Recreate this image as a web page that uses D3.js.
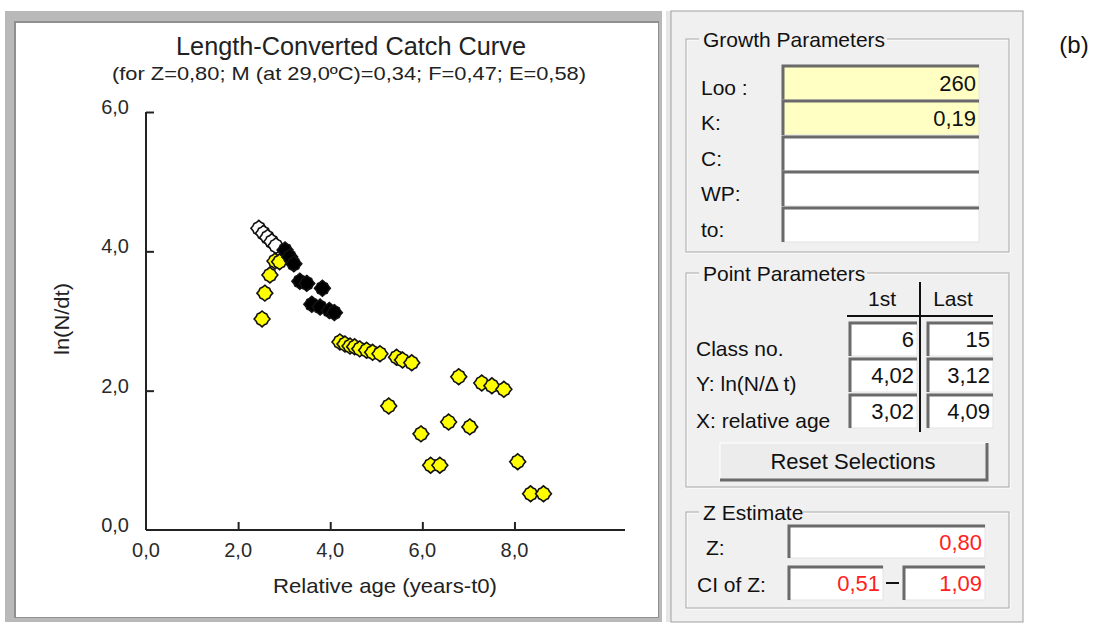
<!DOCTYPE html>
<html lang="en">
<head>
<meta charset="UTF-8">
<title>Length-Converted Catch Curve</title>
<script src="https://cdnjs.cloudflare.com/ajax/libs/d3/7.8.5/d3.min.js"></script>
<style>
  body { margin: 0; background: #fff; }
  svg text { font-family: "Liberation Sans", Arial, sans-serif; }
  svg .win text { font-family: "Liberation Sans Narrow", "Arial Narrow", "Liberation Sans", sans-serif; }
</style>
</head>
<body>
<div id="draw-here"></div>
<script>
/* global d3 */

// points not used (open), used in the regression (black) and the rest (yellow)
var openAge = [2.45, 2.55, 2.64, 2.73, 2.82];
var openLn  = [4.33, 4.26, 4.20, 4.14, 4.08];

var usedAge = [3.02, 3.12, 3.21, 3.34, 3.49, 3.60, 3.78, 3.83, 3.98, 4.09];
var usedLn  = [4.02, 3.92, 3.82, 3.57, 3.54, 3.24, 3.20, 3.47, 3.15, 3.12];

var otherAge = [2.52, 2.58, 2.69, 2.80, 2.90,
                4.21, 4.32, 4.43, 4.53, 4.64, 4.79, 4.92, 5.08, 5.44, 5.57, 5.77,
                5.27, 5.97, 6.18, 6.38, 6.57, 6.79, 7.03, 7.29, 7.51, 7.77, 8.07, 8.35, 8.63];
var otherLn  = [3.03, 3.40, 3.66, 3.86, 3.85,
                2.70, 2.67, 2.64, 2.63, 2.60, 2.58, 2.55, 2.53, 2.48, 2.44, 2.40,
                1.78, 1.38, 0.93, 0.93, 1.55, 2.20, 1.48, 2.11, 2.07, 2.02, 0.98, 0.52, 0.52];

var xTicks = [0, 2, 4, 6, 8];
var yTicks = [0, 2, 4, 6];

// right hand panel contents
var growthLabels = ["Loo :", "K:", "C:", "WP:", "to:"];
var growthValues = ["260", "0,19", "", "", ""];
var pointLabels  = ["Class no.", "Y: ln(N/\u0394 t)", "X: relative age"];
var pointFirst   = ["6", "4,02", "3,02"];
var pointLast    = ["15", "3,12", "4,09"];
var zValue = "0,80";
var ciLow = "0,51", ciHigh = "1,09";

var w = 1096, h = 624;
var comma = function(v) { return d3.format(".1f")(v).replace(".", ","); };

var svg = d3.select("#draw-here").append("svg")
    .attr("width", w).attr("height", h);

// ---- left window frame ----
svg.append("rect").attr("x", 5).attr("y", 11).attr("width", 657).attr("height", 611).attr("fill", "#b9b9b9");
svg.append("rect").attr("x", 14).attr("y", 21).attr("width", 645).attr("height", 597).attr("fill", "#8f8f8f");
svg.append("rect").attr("x", 16).attr("y", 23).attr("width", 642).attr("height", 594).attr("fill", "#fff");

// ---- chart ----
var x = d3.scaleLinear().domain([0, 10.4]).range([146, 625]);
var y = d3.scaleLinear().domain([0, 6]).range([530, 112]);

var chart = svg.append("g");

chart.append("text").attr("x", 351).attr("y", 55).attr("text-anchor", "middle")
    .attr("font-size", 26).attr("fill", "#222")
    .attr("textLength", 350).attr("lengthAdjust", "spacingAndGlyphs")
    .text("Length-Converted Catch Curve");
chart.append("text").attr("x", 349).attr("y", 80).attr("text-anchor", "middle")
    .attr("font-size", 19).attr("fill", "#222")
    .attr("textLength", 474).attr("lengthAdjust", "spacingAndGlyphs")
    .text("(for Z=0,80; M (at 29,0\u00BAC)=0,34; F=0,47; E=0,58)");

var xAxis = d3.axisTop(x).tickValues(xTicks.slice(1)).tickSize(8).tickFormat("");
var yAxis = d3.axisRight(y).tickValues(yTicks.slice(1)).tickSize(8).tickFormat("");

chart.append("g").attr("transform", "translate(0," + y(0) + ")").call(xAxis)
    .call(function(g) { g.select(".domain").remove(); })
    .selectAll("line").attr("stroke", "#222").attr("stroke-width", 2);
chart.append("g").attr("transform", "translate(" + x(0) + ",0)").call(yAxis)
    .call(function(g) { g.select(".domain").remove(); })
    .selectAll("line").attr("stroke", "#222").attr("stroke-width", 2);

chart.append("line").attr("x1", x(0)).attr("x2", x.range()[1])
    .attr("y1", y(0)).attr("y2", y(0)).attr("stroke", "#222").attr("stroke-width", 2);
chart.append("line").attr("x1", x(0)).attr("x2", x(0))
    .attr("y1", y(0)).attr("y2", y(6)).attr("stroke", "#222").attr("stroke-width", 2);

chart.selectAll(".xlab").data(xTicks).enter().append("text")
    .attr("x", function(d) { return x(d); }).attr("y", 557)
    .attr("text-anchor", "middle").attr("font-size", 20).attr("fill", "#2a2a2a")
    .text(comma);
chart.selectAll(".ylab").data(yTicks).enter().append("text")
    .attr("x", 129).attr("y", function(d) { return y(d) + 2; })
    .attr("text-anchor", "end").attr("font-size", 20).attr("fill", "#2a2a2a")
    .text(comma);

chart.append("text").attr("x", 385).attr("y", 593).attr("text-anchor", "middle")
    .attr("font-size", 21).attr("fill", "#222")
    .attr("textLength", 224).attr("lengthAdjust", "spacingAndGlyphs")
    .text("Relative age (years-t0)");
chart.append("text").attr("transform", "translate(69,319) rotate(-90)")
    .attr("text-anchor", "middle").attr("font-size", 21).attr("fill", "#222")
    .attr("textLength", 72).attr("lengthAdjust", "spacingAndGlyphs")
    .text("ln(N/dt)");

// rounded diamond marker
var blob = {
  draw: function(ctx, size) {
    var r = Math.sqrt(size) / 2;
    for (var i = 0; i < 16; i++) {
      var a = i * Math.PI / 8;
      var rr = r * (i % 2 ? 0.86 : (i % 4 === 0 ? 1.08 : 0.92));
      var px = rr * Math.sin(a), py = -rr * Math.cos(a);
      if (i === 0) ctx.moveTo(px, py); else ctx.lineTo(px, py);
    }
    ctx.closePath();
  }
};
var marker = d3.symbol().type(blob).size(215);

function plot_points(ages, lns, fill) {
  chart.append("g").selectAll("path").data(ages).enter().append("path")
      .attr("d", marker)
      .attr("transform", function(d, i) { return "translate(" + x(d) + "," + y(lns[i]) + ")"; })
      .attr("fill", fill).attr("stroke", "#111").attr("stroke-width", 1.6);
}
plot_points(otherAge, otherLn, "#ffff00");
plot_points(openAge, openLn, "#fff");
plot_points(usedAge, usedLn, "#000");

// ---- right panel ----
svg.append("rect").attr("x", 666).attr("y", 11).attr("width", 6).attr("height", 611).attr("fill", "#e6e6e6");
svg.append("rect").attr("x", 671).attr("y", 11).attr("width", 352).attr("height", 611)
    .attr("fill", "#f0f0f0").attr("stroke", "#a0a0a0");

var panel = svg.append("g").attr("class", "win").attr("fill", "#111");
var fs = 21;

function group_box(x0, y0, x1, y1, label, labelW) {
  panel.append("rect").attr("x", x0 + 1).attr("y", y0 + 1).attr("width", x1 - x0).attr("height", y1 - y0)
      .attr("fill", "none").attr("stroke", "#fff");
  panel.append("rect").attr("x", x0).attr("y", y0).attr("width", x1 - x0).attr("height", y1 - y0)
      .attr("fill", "none").attr("stroke", "#a8a8a8");
  panel.append("rect").attr("x", x0 + 13).attr("y", y0 - 9).attr("width", labelW).attr("height", 18).attr("fill", "#f0f0f0");
  panel.append("text").attr("x", x0 + 17).attr("y", y0 + 8).attr("font-size", fs).attr("fill", "#111").text(label);
}

function edit_box(x0, y0, bw, bh, fill, value, color) {
  panel.append("rect").attr("x", x0).attr("y", y0).attr("width", bw).attr("height", bh)
      .attr("fill", fill).attr("stroke", "#e3e3e3");
  panel.append("path").attr("d", "M" + (x0 + 1) + "," + (y0 + bh) + "V" + (y0 + 1) + "H" + (x0 + bw))
      .attr("fill", "none").attr("stroke", "#6a6a6a").attr("stroke-width", 3);
  if (value) {
    panel.append("text").attr("x", x0 + bw - 3).attr("y", y0 + bh / 2 + 8)
        .attr("text-anchor", "end").attr("font-size", fs + 1).attr("fill", color || "#111").text(value);
  }
}

// growth parameters
group_box(686, 39, 1009, 252, "Growth Parameters", 188);
var rowY = [65, 100, 136, 171, 207];
growthLabels.forEach(function(lab, i) {
  panel.append("text").attr("x", 701).attr("y", rowY[i] + 30).attr("font-size", fs).text(lab);
  edit_box(782, rowY[i], 197, 35, i < 2 ? "#ffffc4" : "#fff", growthValues[i]);
});

// point parameters
group_box(686, 273, 1009, 487, "Point Parameters", 168);
panel.append("text").attr("x", 882).attr("y", 306).attr("text-anchor", "middle").attr("font-size", fs).text("1st");
panel.append("text").attr("x", 953).attr("y", 306).attr("text-anchor", "middle").attr("font-size", fs).text("Last");
panel.append("line").attr("x1", 847).attr("x2", 993).attr("y1", 316).attr("y2", 316).attr("stroke", "#111").attr("stroke-width", 2);
panel.append("line").attr("x1", 920).attr("x2", 920).attr("y1", 282).attr("y2", 432).attr("stroke", "#111").attr("stroke-width", 2);
var prowY = [322, 358, 394];
var plabY = [356, 391, 428];
pointLabels.forEach(function(lab, i) {
  panel.append("text").attr("x", 696).attr("y", plabY[i]).attr("font-size", fs).text(lab);
  edit_box(849, prowY[i], 68, 34, "#fff", pointFirst[i]);
  edit_box(927, prowY[i], 66, 34, "#fff", pointLast[i]);
});

// reset button
panel.append("rect").attr("x", 720).attr("y", 443).attr("width", 267).attr("height", 37)
    .attr("fill", "#ececec").attr("stroke", "#fff");
panel.append("path").attr("d", "M720,480H987V443").attr("fill", "none").attr("stroke", "#6a6a6a").attr("stroke-width", 3);
panel.append("text").attr("x", 853).attr("y", 469).attr("text-anchor", "middle").attr("font-size", fs + 1).text("Reset Selections");

// z estimate
group_box(686, 512, 1009, 608, "Z Estimate", 104);
panel.append("text").attr("x", 706).attr("y", 555).attr("font-size", fs).text("Z:");
edit_box(788, 525, 197, 33, "#fff", zValue, "#ff2020");
panel.append("text").attr("x", 697).attr("y", 592).attr("font-size", fs).text("CI of Z:");
edit_box(788, 566, 95, 34, "#fff", ciLow, "#ff2020");
panel.append("line").attr("x1", 886).attr("x2", 899).attr("y1", 583).attr("y2", 583).attr("stroke", "#111").attr("stroke-width", 2);
edit_box(903, 566, 82, 34, "#fff", ciHigh, "#ff2020");

// figure tag
svg.append("text").attr("x", 1074).attr("y", 53).attr("text-anchor", "middle")
    .attr("font-size", 24).attr("fill", "#111").text("(b)");
</script>
</body>
</html>
